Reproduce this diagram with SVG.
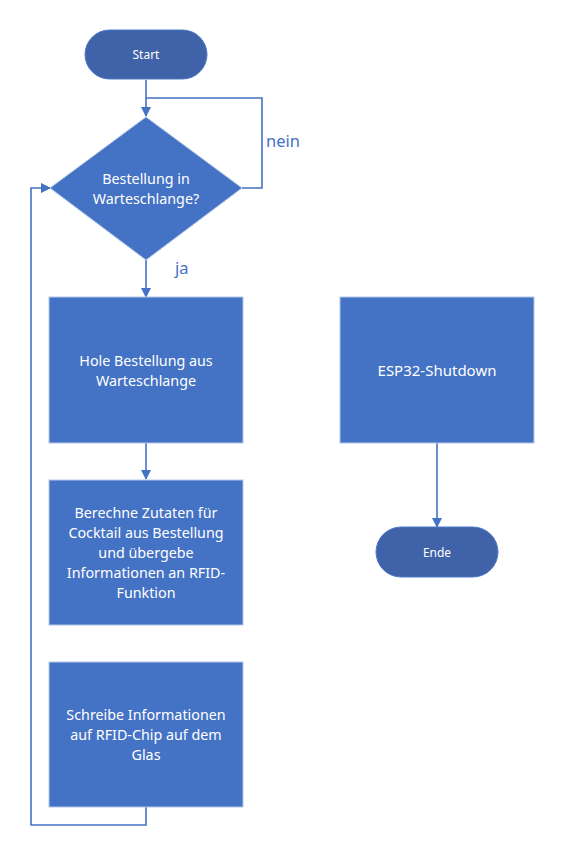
<svg xmlns="http://www.w3.org/2000/svg" width="572" height="850" viewBox="0 0 572 850">
<style>
.box{fill:#4472c4;stroke:#b4c7e7;stroke-width:1}
.pill{fill:#3f62a9;stroke:#4f7ac8;stroke-width:1}
.t{font-family:"Noto Sans","Liberation Sans",Arial,sans-serif;font-size:14.3px;fill:#ffffff;text-anchor:middle}
.tl{font-family:"Noto Sans","Liberation Sans",Arial,sans-serif;font-size:15px;fill:#ffffff;text-anchor:middle}
.ts{font-family:"Noto Sans","Liberation Sans",Arial,sans-serif;font-size:12px;fill:#ffffff;text-anchor:middle}
.lbl{font-family:"Noto Sans","Liberation Sans",Arial,sans-serif;font-size:16.5px;fill:#4472c4}
.c{fill:none;stroke:#4472c4;stroke-width:1.6}
</style>
<defs>
<marker id="ah" markerWidth="10" markerHeight="10" refX="9" refY="5" orient="auto" markerUnits="userSpaceOnUse">
<path d="M0,0 L10,5 L0,10 Z" fill="#4472c4"/>
</marker>
</defs>
<rect width="572" height="850" fill="#ffffff"/>
<g id="connectors">
<path class="c" d="M146,80 L146,116" marker-end="url(#ah)"/>
<path class="c" d="M242,188 L262,188 L262,98 L146,98"/>
<path class="c" d="M146,260 L146,297" marker-end="url(#ah)"/>
<path class="c" d="M146,443 L146,479" marker-end="url(#ah)"/>
<path class="c" d="M146,807 L146,825 L31,825 L31,188 L50,188" marker-end="url(#ah)"/>
<path class="c" d="M437,443 L437,527" marker-end="url(#ah)"/>
</g>
<g id="start">
<rect class="pill" x="85" y="30" width="122" height="49" rx="24.5"/>
<text class="ts" x="146" y="59">Start</text>
</g>
<g id="decision">
<path class="box" d="M146,117 L242,188 L146,260 L50,188 Z"/>
<text class="t" x="146" y="184">Bestellung in</text>
<text class="t" x="146" y="204">Warteschlange?</text>
</g>
<g id="label-nein"><text class="lbl" x="266" y="147">nein</text></g>
<g id="label-ja"><text class="lbl" x="175" y="274">ja</text></g>
<g id="hole">
<rect class="box" x="49" y="297" width="194" height="146"/>
<text class="t" x="146" y="366">Hole Bestellung aus</text>
<text class="t" x="146" y="386">Warteschlange</text>
</g>
<g id="berechne">
<rect class="box" x="49" y="480" width="194" height="145"/>
<text class="t" x="146" y="518">Berechne Zutaten für</text>
<text class="t" x="146" y="538">Cocktail aus Bestellung</text>
<text class="t" x="146" y="558">und übergebe</text>
<text class="t" x="146" y="578">Informationen an RFID-</text>
<text class="t" x="146" y="598">Funktion</text>
</g>
<g id="schreibe">
<rect class="box" x="49" y="662" width="194" height="145"/>
<text class="t" x="146" y="720">Schreibe Informationen</text>
<text class="t" x="146" y="740">auf RFID-Chip auf dem</text>
<text class="t" x="146" y="760">Glas</text>
</g>
<g id="shutdown">
<rect class="box" x="340" y="297" width="194" height="146"/>
<text class="tl" x="437" y="376">ESP32-Shutdown</text>
</g>
<g id="ende">
<rect class="pill" x="376" y="527" width="122" height="50" rx="25"/>
<text class="ts" x="437" y="557">Ende</text>
</g>
</svg>
